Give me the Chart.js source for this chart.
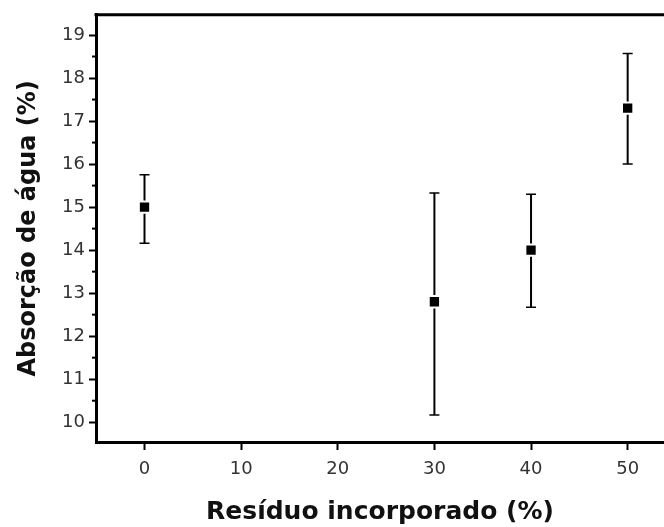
<!DOCTYPE html>
<html>
<head>
<meta charset="utf-8">
<script src="https://cdn.jsdelivr.net/npm/chart.js@4.4.0/dist/chart.umd.min.js"></script>
<style>
  html, body { margin: 0; padding: 0; background: #fff; }
  #wrap { width: 664px; height: 527px; position: relative; }
</style>
</head>
<body>
<div id="wrap"><canvas id="chart"></canvas></div>
<script>
// dados
const residuo = [0, 30, 40, 50];
const absorcao = [15.0, 12.8, 14.0, 17.3];
const erroSuperior = [15.75, 15.33, 15.3, 18.57];
const erroInferior = [14.16, 10.17, 12.67, 16.0];
const xTicks = [0, 10, 20, 30, 40, 50];
const yTicks = [10, 11, 12, 13, 14, 15, 16, 17, 18, 19];
const yMinorTicks = [9.5, 10.5, 11.5, 12.5, 13.5, 14.5, 15.5, 16.5, 17.5, 18.5];

const FONT = '"DejaVu Sans", Verdana, sans-serif';

// barras de erro, ticks menores e borda superior
const errorBars = {
  id: 'errorBars',
  beforeDatasetsDraw(chart) {
    const { ctx, scales: { x, y } } = chart;
    ctx.save();
    ctx.strokeStyle = '#000';
    residuo.forEach((r, i) => {
      const px = x.getPixelForValue(r);
      const top = y.getPixelForValue(erroSuperior[i]);
      const bot = y.getPixelForValue(erroInferior[i]);
      ctx.lineWidth = 2;
      ctx.beginPath();
      ctx.moveTo(px, top);
      ctx.lineTo(px, bot);
      ctx.stroke();
      ctx.lineWidth = 1.5;
      ctx.beginPath();
      ctx.moveTo(px - 5, top);
      ctx.lineTo(px + 5, top);
      ctx.moveTo(px - 5, bot);
      ctx.lineTo(px + 5, bot);
      ctx.stroke();
    });
    ctx.restore();
  },
  afterDraw(chart) {
    const { ctx, chartArea, scales: { y } } = chart;
    ctx.save();
    ctx.strokeStyle = '#000';
    ctx.lineWidth = 2;
    yMinorTicks.forEach(v => {
      if (v < y.min || v > y.max) return;
      const py = y.getPixelForValue(v);
      ctx.beginPath();
      ctx.moveTo(chartArea.left - 4, py);
      ctx.lineTo(chartArea.left, py);
      ctx.stroke();
    });
    ctx.lineWidth = 3;
    ctx.beginPath();
    ctx.moveTo(chartArea.left - 1.5, chartArea.top);
    ctx.lineTo(chartArea.right + 5, chartArea.top);
    ctx.stroke();
    ctx.restore();
  }
};

new Chart(document.getElementById('chart').getContext('2d'), {
  type: 'scatter',
  data: {
    datasets: [{
      label: 'Absorção de água',
      data: residuo.map((r, i) => ({ x: r, y: absorcao[i] })),
      pointStyle: 'rect',
      pointRadius: 8,
      pointHoverRadius: 8,
      backgroundColor: '#000',
      borderColor: '#fff',
      borderWidth: 2
    }]
  },
  options: {
    responsive: true,
    maintainAspectRatio: false,
    animation: false,
    events: [],
    layout: { autoPadding: false, padding: { top: 14, right: 0, left: 0, bottom: 0 } },
    plugins: {
      legend: { display: false },
      tooltip: { enabled: false }
    },
    scales: {
      x: {
        type: 'linear',
        min: -5.02,
        max: 53.76,
        afterBuildTicks: s => { s.ticks = xTicks.map(v => ({ value: v })); },
        afterFit: s => { s.height = 85; },
        border: { color: '#000', width: 3 },
        grid: { drawOnChartArea: false, drawTicks: true, tickLength: 8, tickWidth: 2, tickColor: '#000' },
        ticks: { color: '#333', font: { family: FONT, size: 18 }, padding: 9, maxRotation: 0 },
        title: {
          display: true,
          text: 'Resíduo incorporado (%)',
          color: '#111',
          font: { family: FONT, size: 25, weight: 'bold' },
          padding: { top: 0, bottom: 0 }
        }
      },
      y: {
        type: 'linear',
        min: 9.54,
        max: 19.47,
        afterBuildTicks: s => { s.ticks = yTicks.map(v => ({ value: v })); },
        afterFit: s => { s.width = 96; },
        border: { color: '#000', width: 3 },
        grid: { drawOnChartArea: false, drawTicks: true, tickLength: 7, tickWidth: 2, tickColor: '#000' },
        ticks: { color: '#333', font: { family: FONT, size: 18 }, padding: 4 },
        title: {
          display: true,
          text: 'Absorção de água (%)',
          color: '#111',
          font: { family: FONT, size: 24, weight: 'bold' },
          padding: { top: 14, bottom: 0 }
        }
      }
    }
  },
  plugins: [errorBars]
});
</script>
</body>
</html>
